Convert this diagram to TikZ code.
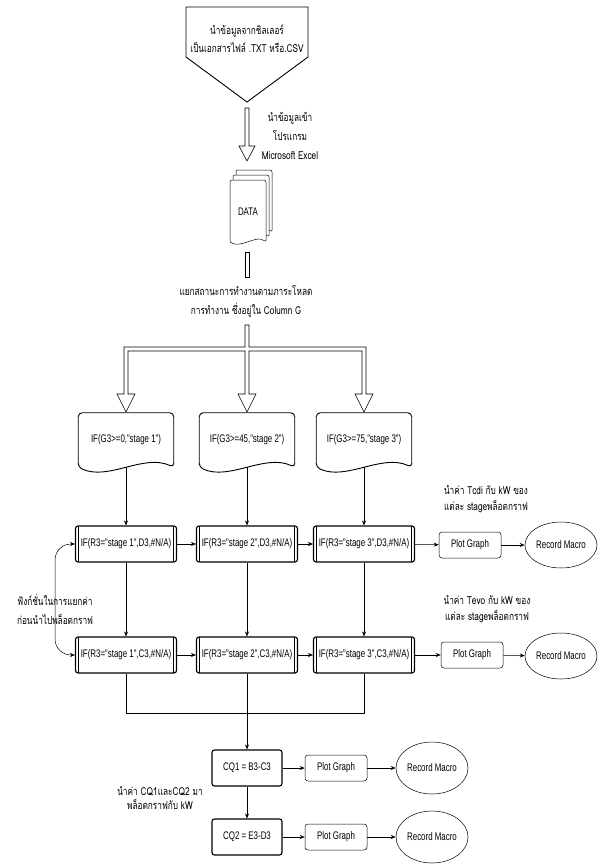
\documentclass[tikz,border=0pt]{standalone}
\usepackage{fontspec}
\setmainfont{Liberation Sans}[FakeStretch=0.72]
\newfontfamily\thaifont[Script=Thai,FakeStretch=0.75]{Loma}
\usetikzlibrary{arrows.meta,positioning,calc,shapes.geometric}
\tikzset{
    >={Stealth[length=5pt,width=4pt]},
    every picture/.style={line width=0.5pt},
    every node/.style={font=\fontsize{11}{13}\selectfont},
    note/.style={font=\thaifont\fontsize{11}{17}\selectfont, align=center, inner sep=0pt},
    ifbox/.style={draw, rounded corners=2.5pt, line width=1.1pt, minimum width=101pt, minimum height=36pt, inner sep=2pt,
        path picture={\draw[line width=0.5pt]
            ([xshift=3pt]path picture bounding box.north west) -- ([xshift=3pt]path picture bounding box.south west)
            ([xshift=-3pt]path picture bounding box.north east) -- ([xshift=-3pt]path picture bounding box.south east);}},
    stagebox/.style={minimum width=95pt, minimum height=54pt, inner sep=0pt},
    plotbox/.style={draw, rounded corners=3pt, minimum width=62pt, minimum height=26pt},
    cqbox/.style={draw, rounded corners=2.5pt, line width=1.1pt, minimum width=70pt, minimum height=36pt},
    recmacro/.style={draw, ellipse, minimum width=72pt, minimum height=46pt, inner sep=0pt},
    hollow/.style={draw, fill=white, line width=0.6pt}
}

\begin{document}
\begin{tikzpicture}[x=1pt,y=-1pt]
    \useasboundingbox (0,0) rectangle (603,864);

    % input from chiller
    \draw[line width=0.9pt, fill=white] (186,7) -- (308,7) -- (308,57) -- (247,102) -- (186,57) -- cycle;
    \node[note, font=\thaifont\fontsize{11}{18}\selectfont] (input) at (247,39) {นำข้อมูลจากชิลเลอร์\\เป็นเอกสารไฟล์ .TXT หรือ.CSV};
    \draw[hollow] (245,108) -- (249,108) -- (249,146) -- (255,146) -- (247,161) -- (239,146) -- (245,146) -- cycle;
    \node[note, font=\thaifont\fontsize{11}{19}\selectfont] (excel) at (290,136) {นำข้อมูลเข้า\\โปรแกรม\\Microsoft Excel};

    % data
    \draw[rounded corners=2pt, fill=white] (236,232) -- (236,170) -- (272,170) -- (272,232) .. controls (262,224) and (246,240) .. (236,232);
    \draw[rounded corners=2pt, fill=white] (233,237) -- (233,175) -- (269,175) -- (269,237) .. controls (259,229) and (243,245) .. (233,237);
    \draw[rounded corners=2pt, fill=white] (230,242) -- (230,180) -- (266,180) -- (266,242) .. controls (256,234) and (240,250) .. (230,242);
    \node (data) at (248,212) {DATA};
    \draw[hollow] (245,252) rectangle (249,277);
    \node[note, font=\thaifont\fontsize{11}{19}\selectfont] (split) at (246,301) {แยกสถานะการทำงานตามภาระโหลด\\การทำงาน ซึ่งอยู่ใน Column G};
    \draw[hollow] (245,325) -- (249,325) -- (249,347) -- (366,347) -- (366,394) -- (373,394) -- (364,412) -- (355,394) -- (362,394)
        -- (362,351) -- (249,351) -- (249,394) -- (256,394) -- (247,412) -- (238,394) -- (245,394) -- (245,351) -- (128,351)
        -- (128,394) -- (135,394) -- (126,412) -- (117,394) -- (124,394) -- (124,347) -- (245,347) -- cycle;

    % stages
    \node[stagebox] (stage1) at (126,440) {IF(G3>=0,"stage 1")};
    \node[stagebox] (stage2) at (247,440) {IF(G3>=45,"stage 2")};
    \node[stagebox] (stage3) at (364,440) {IF(G3>=75,"stage 3")};
    \foreach \s in {stage1,stage2,stage3}
        \draw[line width=0.9pt, rounded corners=4pt] (\s.south west) -- (\s.north west) -- (\s.north east) -- (\s.south east)
            .. controls ($(\s.south east)+(-30,-14)$) and ($(\s.south west)+(30,14)$) .. (\s.south west) -- cycle;

    \node[ifbox] (r1a) at (126,544) {IF(R3="stage 1",D3,\#N/A)};
    \node[ifbox] (r1b) at (247,544) {IF(R3="stage 2",D3,\#N/A)};
    \node[ifbox] (r1c) at (364,544) {IF(R3="stage 3",D3,\#N/A)};
    \node[plotbox] (plot1) at (470,545) {Plot Graph};
    \node[recmacro] (rec1) at (561,545) {Record Macro};
    \node[note, font=\thaifont\fontsize{11}{16}\selectfont] (tcdi) at (486,499) {นำค่า Tcdi กับ kW ของ\\แต่ละ stageพล็อตกราฟ};

    \node[ifbox] (r2a) at (126,655) {IF(R3="stage 1",C3,\#N/A)};
    \node[ifbox] (r2b) at (247,655) {IF(R3="stage 2",C3,\#N/A)};
    \node[ifbox] (r2c) at (364,655) {IF(R3="stage 3",C3,\#N/A)};
    \node[plotbox] (plot2) at (472,655) {Plot Graph};
    \node[recmacro] (rec2) at (561,656) {Record Macro};
    \node[note, font=\thaifont\fontsize{11}{16}\selectfont] (tevo) at (487,609) {นำค่า Tevo กับ kW ของ\\แต่ละ stageพล็อตกราฟ};

    \coordinate (bend) at (55,600);
    \draw[<->, rounded corners=16pt] (r1a.west) -| (bend) |- (r2a.west);
    \node[note, font=\thaifont\fontsize{11}{19}\selectfont] (func) at (55,609) {ฟังก์ชั่นในการแยกค่า\\ก่อนนำไปพล็อตกราฟ};

    \foreach \a/\b/\c in {stage1/r1a/r2a,stage2/r1b/r2b,stage3/r1c/r2c} {
        \draw[->] (\a.south) -- (\b.north);
        \draw[->] (\b.south) -- (\c.north);
    }
    \draw[->] (r1a) -- (r1b);
    \draw[->] (r1b) -- (r1c);
    \draw[->] (r1c) -- (plot1);
    \draw[->] (plot1) -- (rec1);
    \draw[->] (r2a) -- (r2b);
    \draw[->] (r2b) -- (r2c);
    \draw[->] (r2c) -- (plot2);
    \draw[->] (plot2) -- (rec2);

    % CQ
    \node[cqbox] (cq1) at (247,768) {CQ1 = B3-C3};
    \node[cqbox] (cq2) at (247,837) {CQ2 = E3-D3};
    \node[plotbox] (plot3) at (336,768) {Plot Graph};
    \node[plotbox] (plot4) at (336,837) {Plot Graph};
    \node[recmacro, minimum height=52pt] (rec3) at (432,768) {Record Macro};
    \node[recmacro, minimum height=52pt] (rec4) at (432,837) {Record Macro};
    \node[note, font=\thaifont\fontsize{11}{14}\selectfont] (cqnote) at (160,798) {นำค่า CQ1และCQ2 มา\\พล็อตกราฟกับ kW};

    \coordinate (merge) at (247,713);
    \draw (r2a.south) |- (merge);
    \draw (r2c.south) |- (merge);
    \draw (r2b.south) -- (merge);
    \draw[->] (merge) -- (cq1.north);
    \draw[->] (cq1) -- (cq2);
    \draw[->] (cq1) -- (plot3);
    \draw[->] (plot3) -- (rec3);
    \draw[->] (cq2) -- (plot4);
    \draw[->] (plot4) -- (rec4);
\end{tikzpicture}
\end{document}
